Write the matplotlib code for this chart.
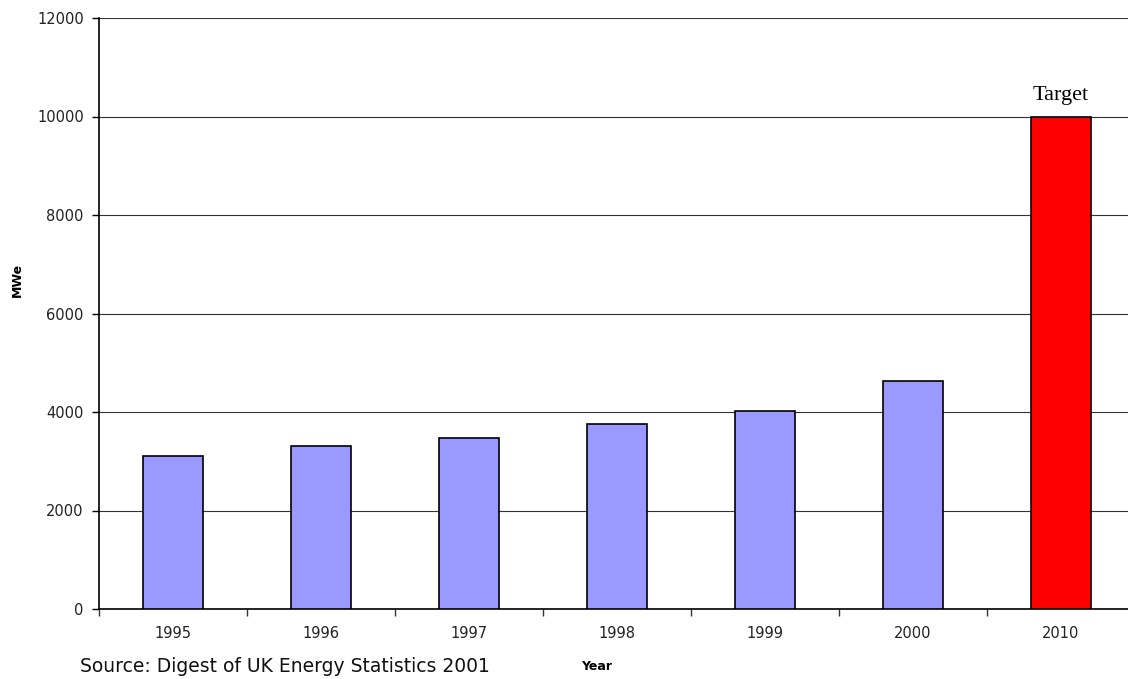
import matplotlib
matplotlib.use("Agg")
import matplotlib.pyplot as plt


years = ["1995", "1996", "1997", "1998", "1999", "2000", "2010"]
capacity = [3100, 3310, 3470, 3760, 4020, 4630, 10000]
bar_colors = ["#9999FF"] * 6 + ["#FF0000"]
y_ticks = [0, 2000, 4000, 6000, 8000, 10000, 12000]


fig = plt.figure(figsize=(11.28, 6.79), dpi=100)
ax = fig.add_axes([99 / 1128, 70 / 679, 1036 / 1128, 591 / 679])

x = list(range(len(years)))
ax.bar(x, capacity, width=0.4, color=bar_colors, edgecolor="black", linewidth=1.2, zorder=3)

ax.set_xlim(-0.5, len(years) - 0.5)
ax.set_ylim(0, 12000)
ax.set_yticks(y_ticks)
ax.set_yticklabels([str(v) for v in y_ticks])

# category labels centred, tick marks on the boundaries
ax.set_xticks(x)
ax.set_xticklabels(years)
ax.set_xticks([i - 0.5 for i in range(len(years) + 1)], minor=True)
ax.tick_params(axis="x", which="major", length=0, pad=12, labelsize=10.5, labelcolor="#222222")
ax.tick_params(axis="x", which="minor", length=5, width=1, color="#333333")
ax.tick_params(axis="y", length=5, width=1, pad=6, labelsize=10.5, labelcolor="#222222")

ax.grid(axis="y", color="#333333", linewidth=0.8, zorder=0)
ax.spines["top"].set_visible(False)
ax.spines["right"].set_visible(False)
ax.spines["left"].set_linewidth(1.2)
ax.spines["bottom"].set_linewidth(1.2)

ax.text(6, 10230, "Target", ha="center", va="bottom",
        family="Liberation Serif", fontsize=16)

fig.text(17 / 1128, 1 - 280 / 679, "MWe", rotation=90, ha="center", va="center",
         fontsize=9, fontweight="bold")
fig.text(597 / 1128, 1 - 666 / 679, "Year", ha="center", va="center",
         fontsize=9, fontweight="bold")
fig.text(80 / 1128, 1 - 667 / 679, "Source: Digest of UK Energy Statistics 2001",
         ha="left", va="center", fontsize=13.5, color="#111111")

fig.savefig("out.png", dpi=100)
